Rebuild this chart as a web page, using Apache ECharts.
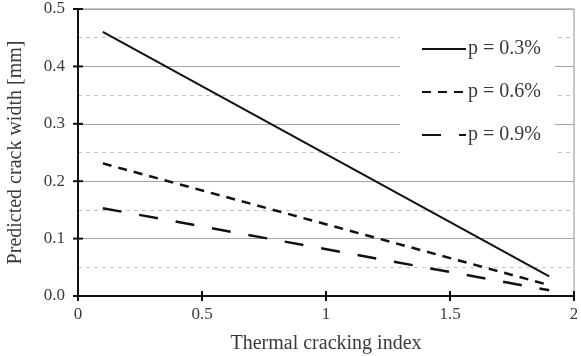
<!DOCTYPE html>
<html>
<head>
<meta charset="utf-8">
<script src="https://cdn.jsdelivr.net/npm/echarts@6/dist/echarts.min.js"></script>
<style>
  html, body { margin: 0; padding: 0; background: #fff; }
  #chart { width: 581px; height: 356px; }
</style>
</head>
<body>
<div id="chart"></div>
<script>
// Predicted crack width vs thermal cracking index, for three reinforcement ratios
const seriesNames = ['p = 0.3%', 'p = 0.6%', 'p = 0.9%'];
const crackingIndex = [0.1, 1.9];
const widthP03 = [0.46, 0.034];
const widthP06 = [0.231, 0.019];
const widthP09 = [0.153, 0.01];
const xTicks = [0, 0.5, 1, 1.5, 2];
const yTicks = [0.0, 0.1, 0.2, 0.3, 0.4, 0.5];

const FONT = '"Liberation Serif", "Times New Roman", serif';
const TEXT = '#3a3a3a';
const AXIS = '#111';
const FRAME = '#8c8c8c';

const pairs = (ys) => crackingIndex.map((x, i) => [x, ys[i]]);

const xMin = xTicks[0], xMax = xTicks[xTicks.length - 1];
const yMin = yTicks[0], yMax = yTicks[yTicks.length - 1];

// Axis frame items: kind 0 = tick on the x axis, 1 = tick on the y axis,
// 2 = x axis line, 3 = y axis line
const frameItems = []
  .concat(xTicks.map((v) => [v, yMin, 0]))
  .concat(yTicks.map((v) => [xMin, v, 1]))
  .concat([[xMin, yMin, 2], [xMin, yMin, 3]]);

function renderFrame(params, api) {
  const kind = api.value(2);
  const p = api.coord([api.value(0), api.value(1)]);
  const style = { stroke: AXIS, lineWidth: 2 };
  let shape;
  if (kind === 0) {
    shape = { x1: p[0], y1: p[1] - 5, x2: p[0], y2: p[1] + 5 };
  } else if (kind === 1) {
    shape = { x1: p[0] - 5, y1: p[1], x2: p[0] + 5, y2: p[1] };
  } else if (kind === 2) {
    const a = api.coord([xMin, yMin]), b = api.coord([xMax, yMin]);
    shape = { x1: a[0] - 1, y1: a[1], x2: b[0] + 1, y2: b[1] };
  } else {
    const a = api.coord([xMin, yMin]), b = api.coord([xMin, yMax]);
    shape = { x1: a[0], y1: a[1] + 1, x2: b[0], y2: b[1] - 1 };
  }
  return { type: 'line', shape, style };
}

const chart = echarts.init(document.getElementById('chart'));

chart.setOption({
  animation: false,
  backgroundColor: '#fff',
  grid: { left: 78, right: 7, top: 9, bottom: 60, outerBoundsMode: 'none', containLabel: false,
    show: true, borderColor: FRAME, borderWidth: 1, backgroundColor: 'transparent' },
  legend: {
    orient: 'vertical',
    left: 400, top: 27,
    padding: [12, 14, 20, 21],
    backgroundColor: '#fff',
    itemWidth: 44, itemHeight: 20, itemGap: 23,
    itemStyle: { color: 'rgba(0,0,0,0)', borderWidth: 0 },
    textStyle: { fontFamily: FONT, fontSize: 20, color: TEXT, padding: [0, 0, 0, -3] },
    data: seriesNames
  },
  xAxis: {
    type: 'value', min: xMin, max: xMax, interval: 0.5,
    name: 'Thermal cracking index', nameLocation: 'middle', nameGap: 38,
    nameTextStyle: { fontFamily: FONT, fontSize: 20, color: TEXT },
    axisLine: { show: false },
    axisTick: { show: false },
    axisLabel: { show: true, margin: 10, fontFamily: FONT, fontSize: 17, color: TEXT },
    splitLine: { show: false }
  },
  yAxis: {
    type: 'value', min: yMin, max: yMax, interval: 0.1,
    name: 'Predicted crack width [mm]', nameLocation: 'middle', nameGap: 52,
    nameTextStyle: { fontFamily: FONT, fontSize: 20, color: TEXT },
    axisLine: { show: false },
    axisTick: { show: false },
    axisLabel: { show: true, margin: 13, fontFamily: FONT, fontSize: 17, color: TEXT,
      formatter: (v) => v.toFixed(1) },
    splitLine: { show: true, lineStyle: { color: '#a6a6a6', width: 1 } },
    minorTick: { show: false, splitNumber: 2 },
    minorSplitLine: { show: true, lineStyle: { color: '#c4c4c4', width: 1, type: [4, 4] } }
  },
  series: [{
    name: seriesNames[0], type: 'line', symbol: 'none', z: 5,
    data: pairs(widthP03),
    lineStyle: { color: '#111', width: 2, type: 'solid' },
    itemStyle: { color: '#111' }
  }, {
    name: seriesNames[1], type: 'line', symbol: 'none', z: 5,
    data: pairs(widthP06),
    lineStyle: { color: '#111', width: 2.5, type: [9, 7] },
    itemStyle: { color: '#111' }
  }, {
    name: seriesNames[2], type: 'line', symbol: 'none', z: 5,
    data: pairs(widthP09),
    lineStyle: { color: '#111', width: 2.5, type: [19, 18] },
    itemStyle: { color: '#111' }
  }, {
    // black left/bottom axis lines with ticks straddling them
    name: 'axes', type: 'custom', z: 6, silent: true, clip: false,
    data: frameItems,
    encode: { x: 0, y: 1 },
    renderItem: renderFrame
  }]
});
</script>
</body>
</html>
